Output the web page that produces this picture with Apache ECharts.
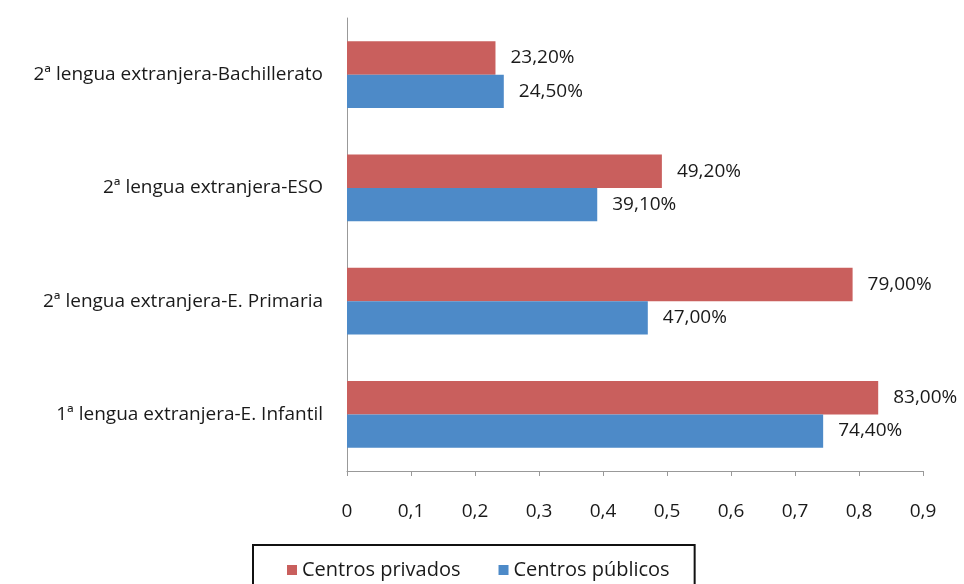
<!DOCTYPE html>
<html>
<head>
<meta charset="utf-8">
<script src="https://cdn.jsdelivr.net/npm/echarts@6/dist/echarts.min.js"></script>
<style>
  html, body {margin: 0; padding: 0; background: #fff;}
  #chart {width: 964px; height: 584px;}
</style>
</head>
<body>
<div id="chart"></div>
<script>
// categories from bottom to top
const categories = [
  '1ª lengua extranjera-E. Infantil',
  '2ª lengua extranjera-E. Primaria',
  '2ª lengua extranjera-ESO',
  '2ª lengua extranjera-Bachillerato'
]
const privados = [0.83, 0.79, 0.492, 0.232]
const publicos = [0.744, 0.47, 0.391, 0.245]
const xTicks = [0, 0.1, 0.2, 0.3, 0.4, 0.5, 0.6, 0.7, 0.8, 0.9]

const font = 'Open Sans'
const pct = v => (v * 100).toFixed(2).replace('.', ',') + '%'

const labelStyle = {
  show: true,
  position: 'right',
  distance: 15,
  color: '#1a1a1a',
  fontSize: 19,
  fontFamily: font,
  formatter: p => pct(p.value)
}

const option = {
  animation: false,
  grid: {left: 347, right: 41, top: 18, bottom: 113},
  legend: {
    top: 545,
    left: 253,
    padding: [15, 25, 20, 34],
    itemGap: 38,
    itemWidth: 10,
    itemHeight: 10,
    borderColor: '#111',
    borderWidth: 2,
    icon: 'rect',
    textStyle: {fontSize: 20, fontFamily: font, color: '#1a1a1a'},
    data: ['Centros privados', 'Centros públicos']
  },
  xAxis: {
    type: 'value',
    min: 0,
    max: 0.9,
    interval: 0.1,
    splitLine: {show: false},
    axisLine: {show: true, lineStyle: {color: '#999'}},
    axisTick: {show: true, length: 5, lineStyle: {color: '#999'}},
    axisLabel: {
      margin: 31,
      fontSize: 19,
      fontFamily: font,
      color: '#1a1a1a',
      formatter: v => {
        const t = xTicks.find(x => Math.abs(x - v) < 1e-6)
        return t === 0 ? '0' : String(t).replace('.', ',')
      }
    }
  },
  yAxis: {
    type: 'category',
    data: categories,
    axisLine: {lineStyle: {color: '#999'}},
    axisTick: {length: 6, lineStyle: {color: '#999'}},
    axisLabel: {margin: 24, fontSize: 19, fontFamily: font, color: '#1a1a1a'}
  },
  series: [
    {
      name: 'Centros privados',
      type: 'bar',
      data: privados,
      barGap: '0%',
      barCategoryGap: '41%',
      itemStyle: {color: '#C95F5D'},
      label: labelStyle
    },
    {
      name: 'Centros públicos',
      type: 'bar',
      data: publicos,
      barGap: '0%',
      barCategoryGap: '41%',
      itemStyle: {color: '#4D8AC8'},
      label: labelStyle
    }
  ]
}

const chart = echarts.init(document.getElementById('chart'))
chart.setOption(option)
</script>
</body>
</html>
